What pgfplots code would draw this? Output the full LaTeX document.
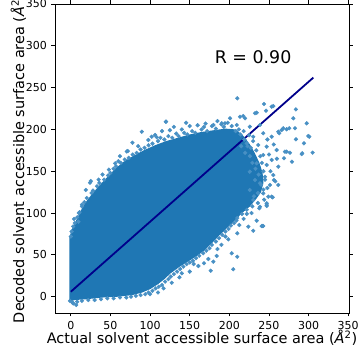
\documentclass[border=0pt]{standalone}
\usepackage{pgfplots}
\pgfplotsset{compat=1.18}
\usepackage{fontspec}
\setmainfont{DejaVu Sans}
\usetikzlibrary{calc}
\definecolor{mblue}{RGB}{31,119,180}
\definecolor{mlight}{RGB}{72,144,196}
\definecolor{mnavy}{RGB}{0,0,139}
\begin{document}
\begin{tikzpicture}
\begin{axis}[
  name=ax,
  scale only axis, width=294pt, height=309pt,
  xmin=-20, xmax=351, ymin=-19.5, ymax=350,
  xtick={0,50,...,350}, ytick={0,50,...,350},
  tick align=outside, major tick length=3.5pt,
  every tick/.style={black, line width=0.8pt},
  axis line style={line width=0.8pt},
  tick label style={font=\fontsize{11}{13}\selectfont},
  /pgf/number format/assume math mode=true,
  xticklabel style={yshift=-1pt},
  yticklabel style={xshift=-1pt},
  xlabel={Actual solvent accessible surface area (\textit{Å}\textsuperscript{2})},
  ylabel={Decoded solvent accessible surface area (\textit{Å}\textsuperscript{2})},
  label style={font=\fontsize{14.5}{17}\selectfont},
  x label style={at={(axis description cs:0.5,-0.099)}, anchor=base},
  y label style={at={(axis description cs:-0.1054,0.5)}, anchor=base},
  clip=true,
]
% solid core of the dense cloud
\addplot[fill=mblue, draw=none] coordinates {
(-2,-6) (-2,70) (1,80) (6,90) (12,102) (18,112) (26,122) (36,133) (46,143) (56,153)
(66,161) (78,168) (92,175) (106,181) (120,186) (135,190) (150,194) (165,197) (180,199)
(195,201) (208,200) (218,192) (226,182) (232,172) (238,160) (242,148) (243,136)
(240,125) (234,117) (226,108) (216,100) (207,91) (198,83) (188,74) (178,64)
(168,55) (158,48) (146,41) (136,35) (126,28) (118,21) (110,15) (100,9) (90,5) (78,2)
(60,0) (40,-1) (20,-3) (5,-4) (-2,-6)
} -- cycle;
% fringe and scattered points
\addplot[only marks, mark=*, mark size=1.9pt, color=mlight, mark options={draw=mlight, fill=mlight}] coordinates {
(0,72) (1,78) (3,84) (5,88) (8,95) (11,101) (14,108) (17,113) (20,118) (26,124)
(28,127) (33,132) (36,136) (42,140) (47,145) (50,148) (54,153) (57,156) (63,160)
(68,164) (73,166) (78,170) (83,172) (88,176) (93,178) (98,181) (103,183) (110,186)
(113,190) (118,188) (123,192) (128,190) (133,195) (136,192) (143,196) (147,194)
(153,198) (157,196) (165,200) (168,203) (172,198) (178,204) (183,201) (190,206)
(193,203) (198,208) (203,204)
(209,91) (206,88) (202,85) (199,81) (195,78) (191,74) (187,70) (183,66) (178,62)
(175,58) (171,55) (167,52) (162,49) (158,46) (154,43) (150,41) (146,39) (142,36)
(138,33) (134,30) (130,27) (126,24) (123,21) (119,18) (115,14) (111,12) (107,10)
(103,7) (98,5) (94,3) (88,2) (82,1) (76,0) (70,-1) (62,-1) (54,-2) (46,-2) (38,-3)
(30,-4) (22,-4) (14,-5) (8,-6) (2,-7) (-1,-5)
(119.8,209.3) (89.5,197.3) (77.7,184.1) (71.9,174.2) (25.2,138.3) (18.9,127.6)
(55.9,159.5) (106.3,193.4) (97.8,187.4) (70.6,173.7) (102,191.3) (108.4,190.6)
(24.3,136.3) (9.6,89.7) (6.7,-9.9) (3,-8)
(210,237.2) (120.2,209.3) (145.4,208) (284,224) (297.6,207.3) (282.8,201.4)
(305.1,172.2) (299.6,192.2) (280.7,213.3) (272.3,200.2) (294.2,183.4)
(291.3,170.6) (272.3,173.4) (246.3,222.4) (300.9,191.3) (284,188.2)
(292,171.5) (279,161.4) (276.5,172.2) (269,165.5) (261.8,133.6) (256.3,139.5)
(254.7,118.8) (247.1,108.5) (242.8,84.5) (266,199.3) (275.6,201.4) (263,195.4)
(205,32.8) (176.5,31.1) (210,47.8) (203,51.9) (184,48.7) (179.8,41.9)
(160.9,36.7) (173.5,45.1) (127.3,16.7) (137,23.2) (242,84.5) (234.5,90.9)
(224,83.7) (230.2,78.9) (212.6,85.7) (247.1,109.6) (237.8,105.7) (198.7,68.6)
(210,75.8) (249.2,119.6) (240.8,84.5)
(190,62) (195,72) (168,40) (150,30) (155,39) (117,10) (140,28) (218,93)
(222,99) (228,100) (185,57) (100,3) (110,5)
(185,210) (170,207) (160,205) (130,203) (140,200) (150,204) (115,198) (125,199)
(62,168) (48,152) (40,146) (35,140) (10,100) (4,93) (14,110) (60,162) (85,180)
(179.9,205.3) (190.4,207.3) (200.9,213.3) (213.5,215.2) (219.8,213.3) (232.4,219.3)
(243.7,230.4) (253.4,227.2) (209.3,205.3) (225.8,203.3) (238.7,205.3) (261.8,197.3)
(268.1,201.4) (253.4,191.3) (242.8,195.4) (230.2,191.3) (221.9,183.4) (236.5,181.4)
(247.1,179.4) (259.7,175.4) (270.2,173.4) (242.8,169.4) (253.4,163.5) (261.8,155.5)
(247.1,157.5) (234.5,159.5) (255.5,145.5) (245,143.5) (238.7,135.6) (251.3,133.6)
(242.8,123.6) (253.4,119.6) (247.1,111.7) (238.7,107.6) (230.2,115.6) (225.8,127.6)
(232.4,139.5) (225.8,149.5) (234.5,220) (217.6,216.1) (194.6,207.3) (255.5,228)
(208,198) (214,194) (219,188) (223,180) (215,180) (220,172) (226,168) (229,160)
(233,153) (237,146) (212,200) (218,198) (225,193) (230,186) (227,178) (234,175)
(239,168) (241,160) (243,150) (245,140) (240,134) (243,128) (236,124) (231,120)
(250,170) (256,182) (248,188) (260,165) (252,150) (258,138) (248,130) (244,116)
(236,112) (229,108) (222,104) (216,99) (210,94)
};
% regression line
\addplot[mnavy, line width=1.8pt] coordinates {(0,6) (306,262)};
\node[font=\fontsize{17.4}{20}\selectfont] at (axis cs:230,286.6) {R = 0.90};
\end{axis}
\pgfresetboundingbox
\path[use as bounding box] ($(ax.south west)+(-55pt,-34pt)$) rectangle ($(ax.north east)+(9pt,4pt)$);
\end{tikzpicture}
\end{document}
